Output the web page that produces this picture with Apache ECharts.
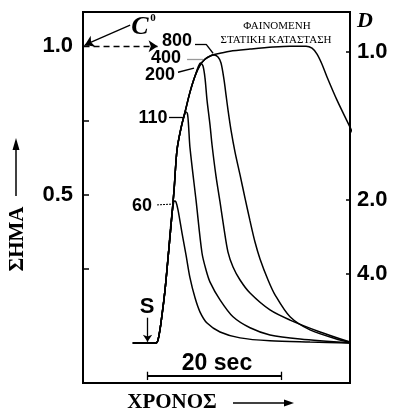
<!DOCTYPE html>
<html>
<head>
<meta charset="utf-8">
<script src="https://cdn.jsdelivr.net/npm/echarts@6/dist/echarts.min.js"></script>
<style>
  html, body { margin: 0; padding: 0; background: #fff; }
  #chart { width: 393px; height: 412px; }
</style>
</head>
<body>
<div id="chart"></div>
<script>
  // time in sec from injection S, signal relative to C0
  var t60 = [-2.2, 1.27, 1.72, 2.16, 2.61, 3.06, 3.51, 3.81, 4.03, 4.25, 4.55, 5.15, 5.75, 6.34, 7.09, 7.84, 8.88, 10.82, 13.81, 18.28, 24.25, 30.22];
  var s60 = [0, 0, 0.027, 0.094, 0.178, 0.286, 0.407, 0.461, 0.478, 0.475, 0.448, 0.370, 0.296, 0.219, 0.152, 0.104, 0.067, 0.037, 0.017, 0.007, 0.003, 0];

  var t110 = [-2.2, 1.27, 1.72, 2.16, 2.61, 3.06, 3.51, 3.96, 4.40, 5.0, 5.45, 5.75, 5.97, 6.12, 6.34, 7.24, 8.13, 8.73, 9.33, 10.82, 12.76, 15.30, 18.28, 22.76, 30.22];
  var s110 = [0, 0, 0.027, 0.094, 0.178, 0.286, 0.397, 0.515, 0.650, 0.724, 0.764, 0.778, 0.771, 0.734, 0.657, 0.481, 0.303, 0.246, 0.205, 0.145, 0.088, 0.051, 0.027, 0.013, 0];

  var t200 = [-2.2, 1.27, 1.72, 2.16, 2.61, 3.06, 3.51, 3.96, 4.40, 5.0, 5.60, 6.34, 7.09, 7.54, 7.91, 8.28, 8.58, 8.88, 9.33, 9.63, 10.22, 10.82, 11.42, 12.01, 12.76, 13.81, 15.30, 18.28, 21.27, 25.75, 30.22];
  var s200 = [0, 0, 0.027, 0.094, 0.178, 0.286, 0.397, 0.515, 0.650, 0.724, 0.778, 0.845, 0.899, 0.929, 0.943, 0.933, 0.892, 0.818, 0.734, 0.667, 0.562, 0.475, 0.384, 0.306, 0.256, 0.212, 0.168, 0.111, 0.077, 0.037, 0.003];

  var t400 = [-2.2, 1.27, 1.72, 2.16, 2.61, 3.06, 3.51, 3.96, 4.40, 5.0, 5.60, 6.34, 7.09, 7.84, 8.58, 9.33, 9.93, 10.52, 10.97, 11.42, 11.72, 12.01, 12.46, 13.06, 13.81, 14.55, 15.30, 16.04, 16.79, 17.99, 19.03, 21.27, 24.25, 28.73, 30.22];
  var s400 = [0, 0, 0.027, 0.094, 0.178, 0.286, 0.397, 0.515, 0.650, 0.724, 0.778, 0.845, 0.899, 0.936, 0.956, 0.966, 0.970, 0.963, 0.943, 0.886, 0.835, 0.785, 0.717, 0.643, 0.566, 0.488, 0.411, 0.340, 0.283, 0.212, 0.162, 0.088, 0.044, 0.010, 0.003];

  var t800 = [-2.2, 1.27, 1.72, 2.16, 2.61, 3.06, 3.51, 3.96, 4.40, 5.0, 5.60, 6.34, 7.09, 7.84, 8.58, 9.63, 10.82, 12.31, 15.30, 18.73, 21.27, 23.66, 24.55, 25.30, 26.04, 26.79, 28.28, 30.22, 30.97];
  var s800 = [0, 0, 0.027, 0.094, 0.178, 0.286, 0.397, 0.515, 0.650, 0.724, 0.778, 0.845, 0.899, 0.936, 0.956, 0.970, 0.976, 0.983, 0.990, 0.997, 1.0, 1.0, 0.993, 0.973, 0.939, 0.896, 0.818, 0.727, 0.690];

  var curveNames = ['60', '110', '200', '400', '800'];
  var leftTicks = [0.25, 0.5, 0.75, 1.0];
  var leftLabels = [0.5, 1.0];
  var rightD = [1.0, 2.0, 4.0];

  function pairs(t, s) {
    return t.map(function (v, i) { return [v, s[i]]; });
  }

  var chart = echarts.init(document.getElementById('chart'));
  var numFont = { color: '#000', fontFamily: 'Liberation Sans', fontWeight: 'bold', fontSize: 22 };

  var curves = [[t60, s60], [t110, s110], [t200, s200], [t400, s400], [t800, s800]];
  var series = curves.map(function (c, i) {
    return {
      name: curveNames[i],
      type: 'line',
      data: pairs(c[0], c[1]),
      showSymbol: false,
      smooth: 0.3,
      clip: true,
      silent: true,
      lineStyle: { color: '#000', width: 1.5 }
    };
  });

  // one straight or curved line between two data points
  function seg(a, b, style, arrow) {
    var ls = Object.assign({ color: '#000', width: 1.3, type: 'solid', curveness: 0 }, style || {});
    return [
      { coord: a, symbol: 'none', lineStyle: ls },
      { coord: b, symbol: arrow ? 'arrow' : 'none', symbolSize: arrow || 0, lineStyle: ls }
    ];
  }

  // arrows, leader lines and the time bar
  series[4].markLine = {
    silent: true,
    animation: false,
    label: { show: false },
    symbol: ['none', 'none'],
    lineStyle: { color: '#000', width: 1.3, type: 'solid' },
    data: [
      seg([-9.55, 1.0], [1.5, 1.0], { type: [6, 4] }, 9),
      seg([-2.6, 1.071], [-9.35, 1.004], { curveness: 0.15 }, 9),
      seg([0, 0.085], [0, 0.004], null, 7),
      seg([0, -0.111], [20, -0.111], { width: 2 }),
      seg([0, -0.097], [0, -0.125]),
      seg([20, -0.097], [20, -0.125]),
      seg([7.09, 1.007], [8.73, 1.007]),
      seg([8.73, 1.007], [9.78, 0.976]),
      seg([5.9, 0.956], [8.28, 0.956], { color: '#999' }),
      seg([4.55, 0.912], [6.94, 0.926]),
      seg([3.21, 0.761], [5.3, 0.761]),
      seg([1.42, 0.465], [3.81, 0.468], { width: 1, type: [2, 1] })
    ]
  };

  function txt(text, x, y, font, extra) {
    var el = {
      type: 'text',
      x: x,
      y: y,
      silent: true,
      style: { text: text, x: 0, y: 0, font: font, fill: '#000', textAlign: 'center', textVerticalAlign: 'middle' }
    };
    if (extra) { for (var k in extra) el[k] = extra[k]; }
    return el;
  }

  var lblFont = 'bold 18px "Liberation Sans"';
  var serifB = 'bold 21px "Liberation Serif"';
  var tickLine = { color: '#000', width: 1.5 };

  var option = {
    animation: false,
    grid: { left: 83, right: 43, top: 12, bottom: 29, show: true, borderColor: '#000', borderWidth: 2 },
    xAxis: { type: 'value', min: -9.63, max: 30.22, show: false },
    yAxis: [
      {
        type: 'value', position: 'left', min: -0.135, max: 1.115,
        axisLine: { show: false, onZero: false }, splitLine: { show: false },
        axisTick: { show: true, inside: true, length: 6, customValues: leftTicks, lineStyle: tickLine },
        axisLabel: Object.assign({ customValues: leftLabels, margin: 10, formatter: function (v) { return v.toFixed(1); } }, numFont)
      },
      {
        type: 'value', position: 'right', min: -0.118, max: 1.135,
        axisLine: { show: false, onZero: false }, splitLine: { show: false },
        axisTick: { show: true, inside: true, length: 4, customValues: rightD.map(function (d) { return 1 / d; }), lineStyle: tickLine },
        axisLabel: Object.assign({ customValues: rightD.map(function (d) { return 1 / d; }), margin: 7, formatter: function (v) { return (1 / v).toFixed(1); } }, numFont)
      }
    ],
    series: series,
    graphic: [
      txt('800', 177, 41, lblFont),
      txt('400', 166, 58, lblFont),
      txt('200', 160, 75, lblFont),
      txt('110', 153, 118, lblFont),
      txt('60', 142, 206, lblFont),
      txt('ΦΑΙΝΟΜΕΝΗ', 277, 26, '11px "Liberation Serif"'),
      txt('ΣΤΑΤΙΚΗ ΚΑΤΑΣΤΑΣΗ', 276, 40, '11px "Liberation Serif"'),
      txt('C', 140, 27, 'italic bold 26px "Liberation Serif"'),
      txt('0', 153, 18, 'bold 11px "Liberation Serif"'),
      txt('D', 365, 21, 'italic bold 22px "Liberation Serif"'),
      txt('S', 147, 307, 'bold 22px "Liberation Sans"'),
      txt('20 sec', 217, 364, 'bold 23px "Liberation Sans"'),
      txt('ΣΗΜΑ', 18, 239, serifB, { rotation: Math.PI / 2 }),
      txt('ΧΡΟΝΟΣ', 172, 403, serifB),
      { type: 'line', silent: true, shape: { x1: 16, y1: 196, x2: 16, y2: 146 }, style: { stroke: '#000', lineWidth: 1.5 } },
      { type: 'polygon', silent: true, shape: { points: [[12.5, 150], [19.5, 150], [16, 138]] }, style: { fill: '#000' } },
      { type: 'line', silent: true, shape: { x1: 233, y1: 403, x2: 287, y2: 403 }, style: { stroke: '#000', lineWidth: 1.5 } },
      { type: 'polygon', silent: true, shape: { points: [[284, 399.5], [284, 406.5], [294, 403]] }, style: { fill: '#000' } }
    ]
  };

  chart.setOption(option);
</script>
</body>
</html>
